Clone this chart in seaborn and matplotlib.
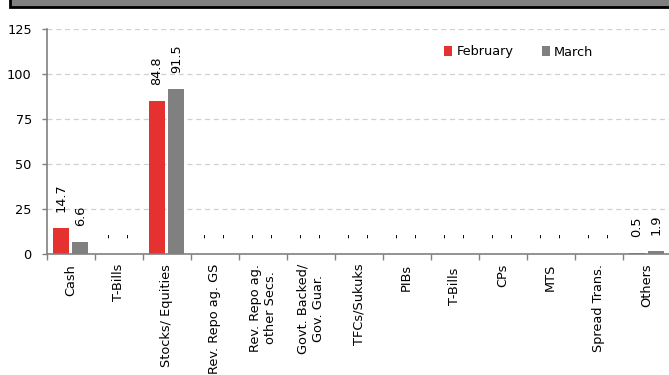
import matplotlib
matplotlib.use("Agg")
import matplotlib.pyplot as plt
import seaborn as sns
import pandas as pd
from matplotlib.patches import Rectangle
from matplotlib.ticker import FixedLocator

categories = ["Cash", "T-Bills", "Stocks/ Equities", "Rev. Repo ag. GS",
              "Rev. Repo ag.\nother Secs.", "Govt. Backed/\nGov. Guar.",
              "TFCs/Sukuks", "PIBs", "T-Bills ", "CPs", "MTS",
              "Spread Trans.", "Others"]
february = [14.7, 0, 84.8, 0, 0, 0, 0, 0, 0, 0, 0, 0, 0.5]
march = [6.6, 0, 91.5, 0, 0, 0, 0, 0, 0, 0, 0, 0, 1.9]
series_names = ["February", "March"]
yticks = [0, 25, 50, 75, 100, 125]

sns.set_theme(style="white")
plt.rcParams['font.family'] = ['DejaVu Sans']
FS = 9.3

df = pd.DataFrame({
    "cat": categories * 2,
    "val": february + march,
    "month": [series_names[0]] * len(categories) + [series_names[1]] * len(categories),
})

W, H = 669, 375
fig = plt.figure(figsize=(W / 100, H / 100), dpi=100)
ax = fig.add_axes([46.5 / W, 1 - 254 / H, (13 * 48) / W, 225 / H])

colors = {"February": "#E5312F", "March": "#808080"}
sns.barplot(data=df, x="cat", y="val", hue="month", order=categories,
            palette=colors, width=0.82, gap=0.2, ax=ax, legend=True,
            saturation=1, linewidth=0)

ax.set_ylim(0, 125)
ax.set_xlim(-0.5, len(categories) - 0.5)
ax.set_yticks(yticks)
ax.set_yticklabels([str(t) for t in yticks], fontsize=FS, color="#000000")
ax.set_xlabel("")
ax.set_ylabel("")
ax.set_xticks(range(len(categories)))
ax.set_xticklabels(categories, rotation=90, fontsize=FS, va="top", ha="center",
                   multialignment="center", color="#000000")
ax.tick_params(axis="x", which="major", length=0, pad=7)
ax.xaxis.set_minor_locator(FixedLocator([i - 0.5 for i in range(len(categories) + 1)]))
ax.tick_params(axis="x", which="minor", length=4, color="#808080", width=1, direction="out", bottom=True)
ax.tick_params(axis="y", length=3.6, color="#808080", width=1, direction="out", left=True, pad=7)

ax.yaxis.grid(True, linestyle=(0, (4, 3)), color="#D0D0D0", linewidth=0.9)
ax.set_axisbelow(True)
for s in ["top", "right"]:
    ax.spines[s].set_visible(False)
for s in ["left", "bottom"]:
    ax.spines[s].set_color("#808080")
    ax.spines[s].set_linewidth(1.2)

# value labels
for cont, vals in zip(ax.containers, [february, march]):
    for bar, v in zip(cont, vals):
        txt = "-" if v == 0 else f"{v:.1f}"
        ax.annotate(txt, (bar.get_x() + bar.get_width() / 2, bar.get_height()),
                    xytext=(0, 11.5), textcoords="offset points",
                    rotation=90, ha="center", va="bottom", fontsize=FS,
                    color="#000000", annotation_clip=False)

leg = ax.legend(loc="upper left", bbox_to_anchor=(444 / W, 1 - 45.5 / H),
                bbox_transform=fig.transFigure, ncol=2, frameon=False,
                fontsize=FS, handlelength=0.65, handleheight=0.75,
                handletextpad=0.3, columnspacing=2.2, borderaxespad=0,
                borderpad=0)
for t in leg.get_texts():
    t.set_color("#000000")

# header band
fig.patches.append(Rectangle((10 / W, 1 - 6.5 / H), 1.0, 0.05,
                             transform=fig.transFigure, facecolor="#808080",
                             edgecolor="#000000", linewidth=2, zorder=5))

fig.savefig("out.png", dpi=100)
